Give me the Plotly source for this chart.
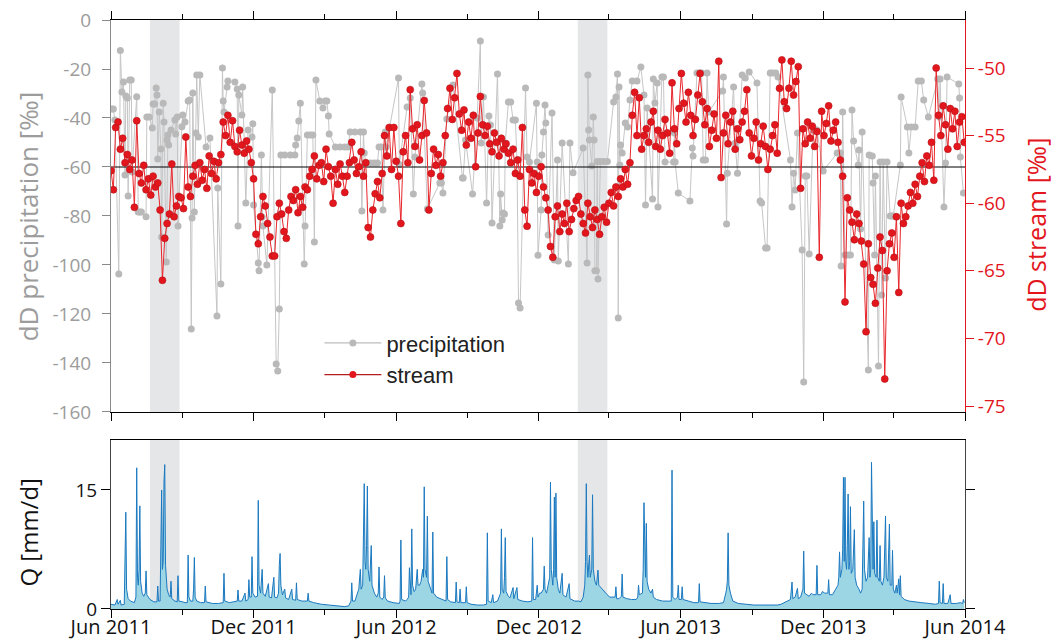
import pandas as pd
import plotly.graph_objects as go

START = "2011-06-01"
END = "2014-06-01"

# stream dD (permil), one sample every 3 days from START
stream_values = [
    -57.6, -59.0, -54.4, -54.0, -56.0, -55.2, -57.0, -56.4, -57.5, -56.8,
    -60.3, -53.9, -57.8, -58.5, -57.2, -59.0, -58.2, -59.4, -58.0, -58.8,
    -58.5, -60.5, -65.7, -62.6, -61.5, -60.8, -57.1, -61.0, -60.2, -59.5,
    -59.6, -60.4, -55.1, -58.8, -59.5, -58.0, -57.2, -58.6, -57.0, -58.3,
    -57.5, -58.9, -56.5, -57.8, -56.9, -58.2, -57.0, -56.4, -54.0, -55.0,
    -53.5, -55.5, -53.9, -55.8, -56.2, -54.6, -55.7, -56.3, -55.4, -56.0,
    -57.0, -58.2, -62.3, -63.0, -61.0, -59.5, -60.2, -61.5, -62.5, -63.9,
    -63.9, -61.0, -60.0, -60.8, -62.1, -62.6, -60.5, -59.5, -59.8, -59.0,
    -60.7, -59.5, -60.3, -58.8, -59.0, -58.0, -57.5, -56.5, -58.2, -57.2,
    -57.0, -58.4, -56.0, -57.3, -58.0, -60.0, -57.5, -58.6, -57.1, -58.0,
    -59.2, -58.0, -57.0, -55.5, -56.8, -57.8, -57.3, -56.2, -58.0, -57.0,
    -61.8, -62.5, -60.5, -59.3, -58.4, -59.6, -57.8, -55.0, -56.5, -54.4,
    -57.5, -54.4, -56.9, -58.0, -61.5, -56.2, -55.0, -57.0, -51.6, -54.5,
    -55.8, -54.2, -56.8, -55.0, -52.4, -54.8, -60.5, -57.8, -56.0, -57.2,
    -56.4, -58.0, -57.0, -55.0, -53.0, -51.5, -53.8, -52.2, -50.4, -53.4,
    -54.6, -53.1, -55.7, -54.0, -55.2, -53.5, -57.3, -54.8, -52.1, -54.2,
    -55.0, -54.3, -55.6, -56.2, -54.8, -55.5, -56.5, -55.2, -56.0, -55.6,
    -56.3, -57.0, -56.0, -57.8, -56.8, -58.0, -54.4, -60.5, -61.7, -57.5,
    -58.5, -57.8, -59.2, -58.0, -57.3, -58.8, -59.6, -60.5, -63.2, -64.0,
    -61.0, -60.2, -62.1, -60.8, -61.5, -60.0, -62.1, -61.2, -60.4, -59.8,
    -59.5, -60.8, -61.5, -62.2, -60.0, -61.0, -61.8, -60.5, -61.2, -62.3,
    -61.0, -60.3, -61.4, -60.0, -59.2, -60.2, -58.8, -59.5, -58.2, -58.8,
    -57.5, -58.6, -57.0, -53.5, -51.8, -55.0, -52.2, -56.0, -55.0, -54.5,
    -55.5, -54.0, -53.2, -55.8, -54.6, -56.0, -55.0, -53.8, -54.8, -56.3,
    -51.1, -54.5, -55.6, -53.0, -50.4, -52.6, -54.0, -51.8, -53.5, -55.0,
    -53.8, -52.0, -50.4, -52.5, -54.2, -53.0, -55.8, -54.6, -53.4, -55.2,
    -49.5, -58.1, -54.8, -53.5, -55.6, -54.0, -53.2, -56.0, -54.5, -55.3,
    -54.0, -53.2, -51.6, -54.8, -56.5, -55.2, -54.0, -56.8, -55.6, -54.3,
    -55.8, -57.5, -56.0, -55.0, -54.2, -56.3, -51.5, -49.4, -52.5, -53.0,
    -51.5, -49.5, -52.0, -51.0, -49.9, -58.9, -54.5, -55.6, -54.0, -55.2,
    -54.3, -55.8, -54.7, -64.0, -53.2, -55.0, -54.1, -52.8, -55.4, -54.6,
    -54.0, -55.5, -56.8, -58.0, -67.3, -59.6, -60.5, -61.4, -62.7, -60.8,
    -61.5, -62.8, -64.5, -69.5, -63.0, -65.5, -66.0, -67.4, -64.8, -62.5,
    -63.5, -73.0, -65.0, -63.0, -62.2, -64.0, -61.0, -66.6, -60.0, -61.5,
    -61.0, -60.2, -59.2, -60.0, -58.6, -59.5, -58.0, -57.0, -58.4, -56.5,
    -57.2, -55.5, -58.3, -50.0, -53.5, -55.0, -52.8, -54.2, -56.0, -53.0,
    -54.5, -53.2, -55.8, -54.0, -53.6, -55.5,
]

# precipitation dD (permil): (day after START, value)
precip_obs = [
    (1, -36.3), (3, -36.3), (5, -40.8), (10, -103.7), (12, -12.5), (14, -29.4), (16, -25.3),
    (18, -63.3), (19, -31.0), (21, -31.8), (22, -71.8), (24, -24.5), (26, -24.5), (27, -62.0),
    (33, -31.3), (35, -78.4), (37, -78.4), (39, -78.4), (45, -80.3), (46, -39.6), (49, -39.6),
    (53, -44.1), (54, -34.3), (56, -34.3), (58, -27.8), (59, -30.6), (60, -56.7), (62, -37.6),
    (64, -52.7), (65, -88.6), (67, -34.0), (68, -41.6), (71, -98.8), (72, -49.0), (73, -46.9),
    (74, -51.0), (77, -44.9), (82, -40.8), (83, -46.5), (85, -39.6), (86, -84.1), (91, -43.6),
    (92, -38.8), (95, -41.6), (99, -33.1), (101, -32.7), (103, -126.1), (104, -80.8), (105, -29.8),
    (107, -78.4), (109, -46.1), (110, -22.4), (112, -47.8), (114, -22.4), (122, -51.8), (127, -48.2),
    (136, -120.8), (137, -68.6), (141, -107.8), (143, -19.6), (144, -33.1), (145, -37.6), (149, -27.3),
    (150, -24.9), (159, -25.3), (162, -28.2), (163, -84.1), (164, -30.6), (168, -38.8), (169, -27.3),
    (173, -74.7), (176, -44.9), (181, -47.8), (182, -42.4), (183, -75.5), (189, -99.2), (190, -102.4),
    (193, -55.1), (194, -80.4), (195, -84.1), (200, -100.0), (207, -28.6), (212, -140.4), (214, -143.3),
    (216, -118.0), (217, -79.2), (218, -55.1), (223, -55.1), (230, -55.1), (236, -55.1), (237, -51.0),
    (239, -48.2), (241, -41.2), (243, -34.0), (248, -99.6), (249, -84.1), (252, -46.9), (256, -46.9),
    (259, -46.9), (261, -90.6), (263, -24.5), (268, -33.1), (272, -35.9), (275, -33.1), (277, -33.1),
    (279, -39.2), (280, -46.5), (288, -51.8), (294, -51.8), (300, -51.8), (304, -51.8), (307, -45.7),
    (313, -45.7), (320, -45.7), (322, -78.0), (324, -45.7), (325, -54.3), (327, -58.4), (333, -58.4),
    (338, -58.4), (342, -58.4), (344, -51.8), (347, -51.8), (349, -77.6), (352, -45.7), (353, -51.8),
    (369, -23.7), (370, -59.0), (380, -35.5), (384, -31.8), (388, -71.0), (390, -55.9), (399, -26.1),
    (400, -29.8), (406, -77.1), (422, -66.5), (424, -66.5), (426, -70.6), (431, -40.4), (439, -26.5),
    (451, -64.5), (452, -64.5), (455, -49.0), (464, -71.0), (470, -40.0), (474, -8.6), (475, -50.2),
    (478, -31.4), (482, -74.7), (485, -39.2), (487, -42.9), (489, -82.9), (496, -22.0), (499, -84.1),
    (500, -71.0), (502, -81.6), (503, -78.8), (505, -79.2), (506, -50.2), (510, -33.5), (513, -33.5),
    (516, -40.8), (519, -40.8), (521, -57.1), (523, -115.5), (525, -117.6), (532, -27.8), (534, -55.9),
    (537, -58.0), (546, -34.0), (547, -58.0), (548, -96.0), (552, -77.6), (553, -55.1), (555, -45.7),
    (557, -34.7), (558, -42.0), (561, -87.8), (566, -38.0), (569, -98.0), (573, -57.1), (574, -98.4),
    (579, -50.2), (587, -99.6), (589, -50.2), (593, -62.4), (606, -52.2), (611, -99.2), (612, -22.4),
    (613, -44.9), (614, -49.0), (617, -59.6), (619, -39.6), (620, -49.0), (621, -102.4), (623, -102.4),
    (624, -57.8), (625, -105.7), (628, -57.8), (632, -57.8), (637, -57.8), (645, -33.5), (648, -31.4),
    (650, -22.0), (651, -121.6), (652, -27.3), (653, -59.2), (654, -51.0), (656, -54.3), (660, -42.0),
    (663, -43.7), (666, -32.7), (669, -24.9), (675, -24.9), (680, -19.2), (684, -30.6), (686, -75.5),
    (688, -35.9), (695, -73.1), (696, -24.1), (698, -33.9), (701, -25.7), (702, -76.3), (707, -23.3),
    (709, -23.3), (711, -58.0), (722, -58.0), (723, -46.1), (724, -58.0), (728, -70.6), (743, -73.9),
    (746, -52.2), (747, -55.5), (752, -21.6), (755, -21.6), (758, -21.6), (760, -57.1), (763, -57.1),
    (765, -21.6), (767, -37.6), (785, -29.0), (786, -23.3), (790, -83.3), (791, -62.6), (799, -27.3),
    (801, -50.2), (804, -62.6), (810, -22.4), (814, -23.7), (819, -21.2), (829, -25.7), (833, -73.9),
    (835, -74.7), (840, -93.1), (842, -93.1), (846, -21.6), (849, -21.6), (853, -21.6), (856, -23.3),
    (872, -57.1), (874, -76.3), (876, -62.6), (878, -69.4), (881, -46.1), (887, -93.9), (889, -147.8),
    (891, -63.7), (893, -63.7), (896, -95.5), (901, -44.9), (904, -44.9), (906, -44.9), (914, -61.6),
    (932, -54.3), (936, -54.3), (937, -100.4), (939, -37.6), (942, -95.9), (946, -95.9), (949, -95.9),
    (951, -36.7), (953, -49.4), (959, -59.2), (960, -53.1), (962, -85.3), (964, -45.7), (972, -142.9),
    (973, -55.1), (977, -55.5), (978, -66.5), (980, -95.9), (981, -63.7), (985, -141.2), (987, -58.0),
    (989, -112.2), (991, -58.0), (994, -105.3), (996, -58.0), (1000, -80.0), (1002, -80.0), (1004, -80.0),
    (1013, -59.2), (1014, -31.4), (1022, -43.7), (1024, -54.3), (1027, -43.7), (1032, -43.7), (1036, -24.9),
    (1040, -24.9), (1043, -32.7), (1049, -39.6), (1061, -24.1), (1063, -39.6), (1064, -24.1), (1069, -76.3),
    (1071, -58.4), (1073, -23.3), (1088, -26.1), (1089, -31.8), (1090, -55.9), (1094, -70.6),
]

# discharge Q (mm/d): (day after START, value)
q_obs = [
    (0, 0.6), (5, 0.5), (8, 1.2), (9, 0.6), (12, 1.1), (13, 0.5), (17, 0.6), (18, 7.3), (19, 12.2),
    (20, 2.5), (22, 1.3), (25, 1.0), (30, 0.8), (32, 1.5), (33, 17.8), (34, 4.0), (35, 3.0), (36, 5.0),
    (37, 13.0), (38, 3.5), (40, 2.0), (42, 1.6), (44, 2.0), (45, 4.8), (46, 1.8), (50, 1.2), (55, 0.9),
    (59, 0.9), (60, 2.9), (61, 1.0), (63, 1.0), (64, 8.0), (65, 15.0), (66, 5.0), (67, 6.0), (68, 16.0),
    (69, 18.2), (70, 5.5), (72, 2.5), (74, 1.8), (76, 1.5), (77, 3.5), (78, 1.3), (82, 1.0), (85, 0.9),
    (86, 4.2), (87, 1.0), (92, 0.9), (95, 0.8), (98, 0.8), (99, 6.8), (100, 1.5), (102, 1.0), (105, 1.0),
    (106, 2.5), (107, 6.5), (108, 1.5), (110, 1.0), (115, 0.8), (120, 0.8), (121, 2.9), (122, 0.9),
    (130, 0.7), (138, 0.7), (144, 0.8), (145, 4.5), (146, 1.0), (152, 0.8), (160, 0.9), (162, 1.0),
    (163, 2.4), (164, 1.0), (168, 1.0), (172, 2.0), (173, 1.0), (176, 1.2), (177, 3.7), (178, 1.5),
    (180, 1.5), (181, 6.6), (182, 2.0), (185, 1.5), (188, 1.6), (189, 13.7), (190, 3.0), (192, 2.0),
    (194, 5.0), (195, 2.0), (198, 1.6), (202, 3.2), (203, 1.5), (206, 1.4), (209, 4.0), (210, 1.5),
    (213, 1.4), (215, 2.0), (216, 5.5), (217, 7.0), (218, 3.0), (220, 1.8), (223, 2.5), (224, 1.4),
    (228, 1.2), (232, 2.5), (233, 1.2), (237, 1.1), (238, 3.3), (239, 1.2), (245, 1.0), (252, 1.0),
    (253, 2.0), (254, 1.0), (260, 0.8), (270, 0.6), (280, 0.5), (290, 0.4), (300, 0.3), (305, 0.4),
    (308, 1.0), (309, 3.3), (310, 1.0), (313, 1.0), (318, 2.5), (320, 5.0), (321, 2.5), (323, 3.0),
    (324, 9.7), (325, 15.8), (326, 6.0), (327, 5.0), (328, 8.0), (329, 15.5), (330, 5.0), (332, 3.5),
    (334, 8.0), (335, 3.0), (338, 2.0), (341, 1.5), (343, 2.0), (344, 5.3), (345, 1.5), (348, 1.2),
    (350, 1.5), (351, 4.2), (352, 1.4), (355, 1.0), (362, 0.8), (370, 0.7), (371, 1.0), (372, 8.7),
    (373, 1.2), (378, 1.0), (380, 1.2), (382, 1.5), (383, 5.2), (384, 2.0), (385, 1.8), (386, 10.1),
    (387, 3.0), (389, 2.2), (391, 2.5), (393, 5.0), (394, 3.0), (396, 3.0), (398, 3.5), (400, 5.0),
    (401, 4.0), (402, 15.4), (403, 5.0), (405, 4.0), (406, 11.7), (407, 3.5), (410, 2.5), (412, 2.0),
    (413, 9.7), (414, 2.0), (418, 1.5), (424, 1.2), (430, 1.0), (431, 6.6), (432, 1.2), (436, 0.9),
    (442, 0.8), (443, 3.4), (444, 0.9), (447, 0.8), (448, 2.5), (449, 0.8), (455, 0.8), (456, 2.8),
    (457, 0.8), (462, 0.6), (470, 0.5), (478, 0.5), (482, 0.6), (483, 9.6), (484, 1.0), (488, 0.8),
    (490, 1.8), (491, 0.8), (496, 1.0), (498, 1.5), (500, 2.0), (501, 10.1), (502, 2.5), (504, 2.0),
    (505, 4.0), (506, 9.0), (507, 2.2), (510, 1.6), (512, 1.4), (516, 2.7), (517, 1.3), (521, 2.7),
    (522, 1.2), (528, 1.0), (535, 0.9), (540, 1.0), (541, 9.0), (542, 1.2), (545, 1.2), (547, 3.0),
    (548, 1.5), (550, 2.0), (552, 2.0), (555, 2.5), (556, 5.4), (557, 2.5), (559, 2.0), (561, 3.0),
    (563, 4.0), (564, 16.0), (565, 5.0), (567, 3.0), (568, 5.0), (569, 14.1), (570, 4.0), (571, 14.6),
    (572, 4.0), (574, 2.5), (576, 2.0), (579, 4.5), (580, 1.8), (584, 1.5), (588, 3.2), (589, 1.3),
    (595, 1.0), (600, 1.0), (603, 0.9), (606, 1.5), (608, 3.0), (609, 6.0), (610, 15.8), (611, 6.0),
    (612, 4.0), (614, 6.8), (615, 4.0), (617, 5.0), (618, 14.4), (619, 5.0), (621, 3.5), (623, 3.0),
    (625, 4.9), (626, 3.0), (630, 2.5), (635, 2.0), (640, 1.5), (645, 1.5), (647, 1.5), (648, 2.8),
    (649, 1.3), (652, 1.3), (655, 1.6), (656, 4.4), (657, 1.5), (662, 1.3), (668, 1.2), (674, 1.2),
    (676, 1.5), (677, 3.0), (678, 1.8), (682, 2.0), (683, 5.0), (684, 13.4), (685, 5.0), (686, 4.0),
    (687, 10.8), (688, 3.5), (690, 2.5), (693, 2.0), (695, 2.5), (696, 1.5), (700, 1.2), (708, 1.0),
    (715, 1.0), (719, 1.0), (720, 17.5), (721, 1.5), (724, 1.2), (727, 1.5), (728, 3.0), (729, 1.2),
    (732, 1.2), (733, 2.8), (734, 1.2), (740, 1.0), (748, 0.8), (754, 0.8), (755, 3.2), (756, 0.9),
    (762, 0.8), (770, 0.7), (780, 0.7), (786, 0.8), (789, 2.0), (790, 2.5), (791, 3.5), (792, 9.6),
    (793, 3.0), (795, 2.0), (798, 1.0), (805, 0.7), (815, 0.6), (825, 0.5), (835, 0.5), (845, 0.5),
    (855, 0.5), (860, 0.6), (865, 0.8), (868, 1.0), (872, 1.2), (874, 3.4), (875, 1.3), (878, 1.5),
    (881, 2.6), (882, 1.3), (885, 1.5), (888, 2.5), (889, 7.3), (890, 2.0), (893, 1.8), (896, 1.6),
    (899, 2.0), (901, 1.8), (905, 1.8), (906, 5.5), (907, 1.8), (911, 1.8), (913, 2.2), (916, 2.0),
    (920, 2.0), (921, 3.7), (922, 1.8), (926, 1.8), (930, 2.5), (933, 3.0), (934, 4.0), (935, 7.2),
    (936, 4.0), (938, 5.0), (939, 7.5), (940, 16.6), (941, 6.0), (942, 16.6), (943, 6.0), (944, 5.0),
    (945, 8.0), (946, 14.5), (947, 5.0), (948, 6.0), (949, 12.9), (950, 4.5), (952, 5.0), (954, 10.0),
    (955, 4.0), (957, 3.0), (960, 2.5), (962, 2.0), (964, 2.5), (965, 8.0), (966, 13.6), (967, 5.0),
    (969, 3.5), (971, 4.0), (973, 9.0), (974, 4.0), (975, 5.0), (976, 18.5), (977, 8.0), (978, 5.0),
    (979, 11.0), (980, 4.5), (982, 4.0), (983, 11.2), (984, 4.0), (986, 3.5), (987, 8.0), (988, 3.5),
    (990, 3.0), (992, 4.0), (994, 11.7), (995, 4.0), (997, 3.5), (999, 10.7), (1000, 3.0), (1002, 3.0),
    (1003, 7.4), (1004, 2.5), (1006, 2.0), (1008, 3.0), (1009, 2.0), (1011, 3.8), (1012, 1.8), (1013, 4.2),
    (1014, 1.6), (1018, 1.2), (1024, 1.0), (1030, 0.9), (1040, 0.8), (1050, 0.7), (1058, 0.6), (1062, 0.7),
    (1063, 3.5), (1064, 0.8), (1067, 0.7), (1068, 3.2), (1069, 0.7), (1074, 0.7), (1077, 1.8), (1078, 0.7),
    (1085, 0.7), (1090, 0.8), (1093, 0.7), (1094, 1.2), (1095, 0.8),
]

shade_periods = [("2011-07-21", "2011-08-28"), ("2013-01-20", "2013-02-27")]
reference_level = -60
left_ticks = [0, -20, -40, -60, -80, -100, -120, -140, -160]
right_ticks = [-50, -55, -60, -65, -70, -75]
q_ticks = [0, 15]

start = pd.Timestamp(START)
stream_dates = pd.date_range(START, periods=len(stream_values), freq="3D")
precip_dates = [start + pd.Timedelta(days=d) for d, _ in precip_obs]
precip_values = [v for _, v in precip_obs]
q_dates = [start + pd.Timedelta(days=d) for d, _ in q_obs]
q_values = [v for _, v in q_obs]
major = pd.date_range(START, END, freq="6MS")
major_text = [d.strftime("%b %Y") for d in major]

GREY = "#9c9c9c"
RED = "#e3161d"
TICKFONT = "Open Sans, Lato, DejaVu Sans"

fig = go.Figure()
fig.add_trace(go.Scatter(
    x=precip_dates, y=precip_values, mode="lines+markers", showlegend=False,
    line=dict(color="#c6c6c6", width=1), marker=dict(color="#b9b9b9", size=7),
    xaxis="x", yaxis="y", hoverinfo="skip"))
fig.add_trace(go.Scatter(
    x=[START, END], y=[reference_level, reference_level], mode="lines", showlegend=False,
    line=dict(color="black", width=1.2), xaxis="x", yaxis="y", hoverinfo="skip"))
fig.add_trace(go.Scatter(
    x=stream_dates, y=stream_values, mode="lines+markers", showlegend=False,
    line=dict(color="#e8262b", width=1),
    marker=dict(color=RED, size=7, line=dict(color="#b51218", width=0.6)),
    xaxis="x", yaxis="y2", hoverinfo="skip"))
fig.add_trace(go.Scatter(
    x=q_dates, y=q_values, mode="lines", fill="tozeroy", fillcolor="#9cd5e4",
    line=dict(color="#1b79c0", width=1), showlegend=False,
    xaxis="x2", yaxis="y3", hoverinfo="skip"))
# legend entries
fig.add_trace(go.Scatter(
    x=[None], y=[None], mode="lines+markers", name="precipitation",
    line=dict(color="#bdbdbd", width=1.2), marker=dict(color="#b9b9b9", size=7),
    xaxis="x", yaxis="y"))
fig.add_trace(go.Scatter(
    x=[None], y=[None], mode="lines+markers", name="stream",
    line=dict(color="#b51c1c", width=1.2), marker=dict(color=RED, size=7),
    xaxis="x", yaxis="y"))

shapes = []
for a, b in shade_periods:
    for yref in ("y domain", "y3 domain"):
        shapes.append(dict(type="rect", xref="x", yref=yref, x0=a, x1=b, y0=0, y1=1,
                           fillcolor="#e5e6e8", line=dict(width=0), layer="below"))

xcommon = dict(type="date", range=[START, END], tickvals=major, showgrid=False, zeroline=False,
               showline=True, linecolor="black", linewidth=1, ticks="outside", ticklen=8,
               tickcolor="black", tickwidth=1, automargin=False,
               minor=dict(ticks="outside", ticklen=5, tickcolor="black", dtick="M3",
                          tick0=START, showgrid=False))

fig.update_layout(
    width=1054, height=640, margin=dict(l=111, r=89, t=20, b=31, autoexpand=False),
    paper_bgcolor="white", plot_bgcolor="white", shapes=shapes,
    showlegend=True,
    legend=dict(x=0.244, y=0.487, xanchor="left", yanchor="top", bgcolor="rgba(0,0,0,0)",
                font=dict(family="Liberation Sans, Arial", size=22, color="#222"),
                itemwidth=57, tracegroupgap=2),
    xaxis=dict(domain=[0, 1], anchor="y", mirror="ticks", showticklabels=False, **xcommon),
    xaxis2=dict(domain=[0, 1], anchor="y3", mirror=True, ticktext=major_text,
                ticklabelstandoff=-8,
                tickfont=dict(family=TICKFONT, size=20, color="#111"), **xcommon),
    yaxis=dict(domain=[0.3345, 1], anchor="x", range=[-160, 0], tickvals=left_ticks,
               ticktext=[str(v) for v in left_ticks], ticks="outside", ticklen=8,
               tickcolor="#8a8a8a", showline=True, linecolor="#8a8a8a", linewidth=1,
               ticklabelstandoff=7,
               tickfont=dict(family=TICKFONT, size=19, color=GREY), automargin=False,
               showgrid=False, zeroline=False),
    yaxis2=dict(overlaying="y", side="right", anchor="x", range=[-75.44, -46.45],
                tickvals=right_ticks, ticktext=[str(v) for v in right_ticks], ticks="outside",
                ticklen=8, tickcolor=RED, showline=True, linecolor=RED, linewidth=1,
                tickfont=dict(family=TICKFONT, size=19, color=RED), automargin=False,
                showgrid=False, zeroline=False),
    yaxis3=dict(domain=[0, 0.2869], anchor="x2", range=[0, 21.3], tickvals=q_ticks,
                ticks="outside", ticklen=9, tickcolor="black", showline=True,
                linecolor="#444", linewidth=1, mirror="ticks", automargin=False,
                tickfont=dict(family=TICKFONT, size=19, color="#111"),
                showgrid=False, zeroline=False),
    annotations=[
        dict(text="dD precipitation [‰]", xref="paper", yref="paper", x=-0.097, y=0.667,
             textangle=-90, showarrow=False, xanchor="center", yanchor="middle",
             font=dict(family=TICKFONT, size=26, color=GREY)),
        dict(text="dD stream [‰]", xref="paper", yref="paper", x=1.083, y=0.652,
             textangle=-90, showarrow=False, xanchor="center", yanchor="middle",
             font=dict(family=TICKFONT, size=25, color=RED)),
        dict(text="Q [mm/d]", xref="paper", yref="paper", x=-0.097, y=0.13,
             textangle=-90, showarrow=False, xanchor="center", yanchor="middle",
             font=dict(family=TICKFONT, size=24, color="#111")),
    ],
)

fig.write_html("out.html")
